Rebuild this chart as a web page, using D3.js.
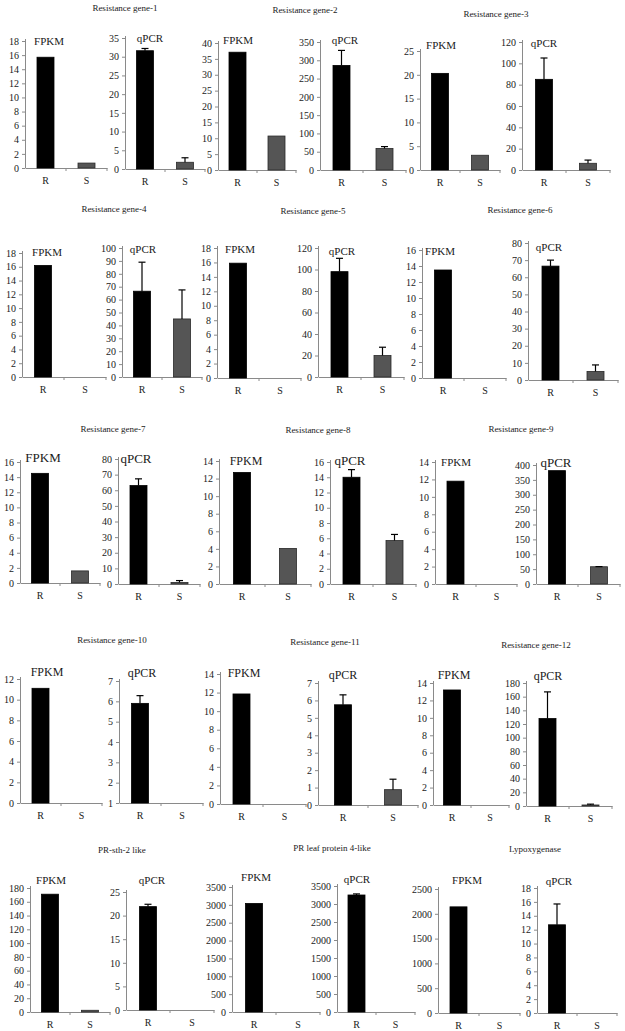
<!DOCTYPE html>
<html><head><meta charset="utf-8">
<script src="https://cdn.jsdelivr.net/npm/d3@7"></script>
<style>
html,body{margin:0;padding:0;background:#fff;}
svg{display:block;}
svg text{font-family:"Liberation Serif","Times New Roman",serif !important;fill:#1a1a1a;}
</style></head>
<body>
<svg id="chart" width="625" height="1031"></svg>
<script>
// ---------------- DATA ----------------
const genes = ["Resistance gene-1","Resistance gene-2","Resistance gene-3",
  "Resistance gene-4","Resistance gene-5","Resistance gene-6",
  "Resistance gene-7","Resistance gene-8","Resistance gene-9",
  "Resistance gene-10","Resistance gene-11","Resistance gene-12",
  "PR-sth-2 like","PR leaf protein 4-like","Lypoxygenase"];
const groups = ["R","S"];
const fpkmR = [15.7, 37.1, 20.3, 16.2, 15.9, 13.5, 14.5, 12.7, 11.8, 11.1, 11.85, 13.2, 171, 3040, 2140];
const fpkmS = [0.7, 10.7, 3.1, 0, 0, 0, 1.6, 4.05, 0, 0, 0, 0, 2.5, 0, 0];
const qpcrR = [31.6, 286, 85, 66.5, 98, 66.5, 63, 14.0, 381, 5.9, 5.75, 128, 21.9, 3250, 12.7];
const qpcrRErr = [0.6, 41, 20, 22.5, 12.4, 3.5, 4.3, 1.0, 0, 0.38, 0.57, 39, 0.5, 30, 3.0];
const qpcrS = [1.8, 59, 6.3, 45, 20, 5, 1, 5.7, 58, 0, 0.88, 1.5, 0, 0, 0];
const qpcrSErr = [1.2, 5, 3, 22.5, 7.7, 3.8, 1.2, 0.8, 0.5, 0, 0.6, 1.2, 0, 0, 0];
// axis [min, max, step]
const fpkmAxis = [[0,18,2],[0,40,5],[0,25,5],[0,18,2],[0,18,2],[0,16,2],[0,16,2],[0,14,2],[0,14,2],
  [0,12,2],[0,14,2],[0,14,2],[0,180,20],[0,3500,500],[0,2500,500]];
const qpcrAxis = [[0,35,5],[0,350,50],[0,120,20],[0,100,10],[0,120,20],[0,80,10],[0,80,10],[0,16,2],[0,400,50],
  [1,7,1],[0,7,1],[0,180,20],[0,25,5],[0,3500,500],[0,18,2]];
const panelLabels = ["FPKM","qPCR"];

// ---------------- LAYOUT ----------------
// panels: [x0, x1, yTop, yZero, labelX, labelY, labelSize]
const layout = [
  [25,107,41,168,49,45,11],[125,205,38,169,150,42,11],[218,296,43,170,238,44,11],[320,406,42,170,345,44,11],[420,500,51,170,441,49,11],[522,610,42,170,544,47,11],
  [22,106,253,377,47,256,11],[122,202,248,377,143,253,11],[217,301,248,378,240,253,11],[318,404,248,377,342,255,11],[422,506,250,378,440,255,11],[528,618,243,380,549,251,11],
  [20,100,462,583,43,462,13],[118,200,459,584,136,463,13],[219,311,461,584,246,465,12],[330,416,462,584,350,465,13],[435,517,462,584,456,466,11],[536,620,465,584,556,467,13],
  [20,102,679,803,47,676,12],[119,203,681,803,142,677,12],[220,306,674,804,244,677,12],[318,418,683,805,343,679,12],[433,509,683,805,454,679,12],[526,612,683,806,548,680,12],
  [30,110,888,1012,51,884,11],[126,214,892,1010,152,884,11],[232,320,887,1012,256,881,11],[337,415,886,1012,357,883,11],[438,520,889,1013,467,884,11],[537,617,888,1013,559,885,11]
];
// titles: [cx, baseline]
const titlePos = [[125,11],[305,13],[496,17],[114,212],[313,214],[520,213],[113,432],[318,433],[521,432],
  [112,643],[325,645],[536,648],[122,853],[332,851],[535,852]];

const FONT = "'Liberation Serif','Times New Roman',serif";
const svg = d3.select("#chart");
svg.append("rect").attr("width",625).attr("height",1031).attr("fill","#fff");
const AX = "#8a8a8a";
const barW = 17;

genes.forEach((g,i)=>{
  svg.append("text").attr("x",titlePos[i][0]).attr("y",titlePos[i][1])
    .attr("text-anchor","middle").style("font-family",FONT).attr("font-size",9).text(g);
  [0,1].forEach(k=>{
    const L = layout[i*2+k];
    const ax = k===0 ? fpkmAxis[i] : qpcrAxis[i];
    const vals = k===0 ? [fpkmR[i], fpkmS[i]] : [qpcrR[i], qpcrS[i]];
    const errs = k===0 ? [0,0] : [qpcrRErr[i], qpcrSErr[i]];
    const x = d3.scaleBand().domain(groups).range([L[0], L[1]]).padding(0);
    const y = d3.scaleLinear().domain([ax[0], ax[1]]).range([L[3], L[2]]);
    const G = svg.append("g");
    // y axis
    const ticks = d3.range(ax[0], ax[1] + ax[2]/2, ax[2]);
    const ya = G.append("g").attr("transform",`translate(${L[0]},0)`)
      .call(d3.axisLeft(y).tickValues(ticks).tickSize(3).tickPadding(3).tickFormat(d3.format("d")));
    ya.attr("font-family",null);
    ya.select(".domain").attr("stroke",AX).attr("d",`M0.5,${L[2]-2}V${L[3]}`);
    ya.selectAll(".tick line").attr("stroke",AX);
    ya.selectAll(".tick text").attr("font-size",10).style("font-family",FONT).attr("fill","#1a1a1a");
    // x axis
    const xa = G.append("g").attr("transform",`translate(0,${L[3]})`)
      .call(d3.axisBottom(x).tickSize(0).tickPadding(9));
    xa.attr("font-family",null);
    xa.select(".domain").attr("stroke",AX);
    xa.selectAll(".tick text").attr("font-size",10).style("font-family",FONT).attr("fill","#1a1a1a");
    groups.forEach(gr=>{
      const bx = x(gr) + x.bandwidth();
      G.append("line").attr("x1",bx).attr("x2",bx).attr("y1",L[3]).attr("y2",L[3]+3).attr("stroke",AX);
    });
    // bars
    groups.forEach((gr,j)=>{
      const v = vals[j];
      if (v <= ax[0]) return;
      const cx = x(gr) + x.bandwidth()/2;
      G.append("rect").attr("x",cx - barW/2).attr("width",barW)
        .attr("y",y(v)).attr("height",y(ax[0]) - y(v))
        .attr("fill", j===0 ? "#000" : "#555").attr("stroke", j===0 ? "#000" : "#2a2a2a").attr("stroke-width",0.8);
      if (errs[j] > 0) {
        const top = y(v + errs[j]);
        G.append("line").attr("x1",cx).attr("x2",cx).attr("y1",y(v)).attr("y2",top).attr("stroke","#000").attr("stroke-width",1.2);
        G.append("line").attr("x1",cx-3.5).attr("x2",cx+3.5).attr("y1",top).attr("y2",top).attr("stroke","#000").attr("stroke-width",1.2);
      }
    });
    // panel label
    G.append("text").attr("x",L[4]).attr("y",L[5]).attr("text-anchor","middle")
      .style("font-family",FONT).attr("font-size",L[6]).text(panelLabels[k]);
  });
});
</script>
</body></html>
